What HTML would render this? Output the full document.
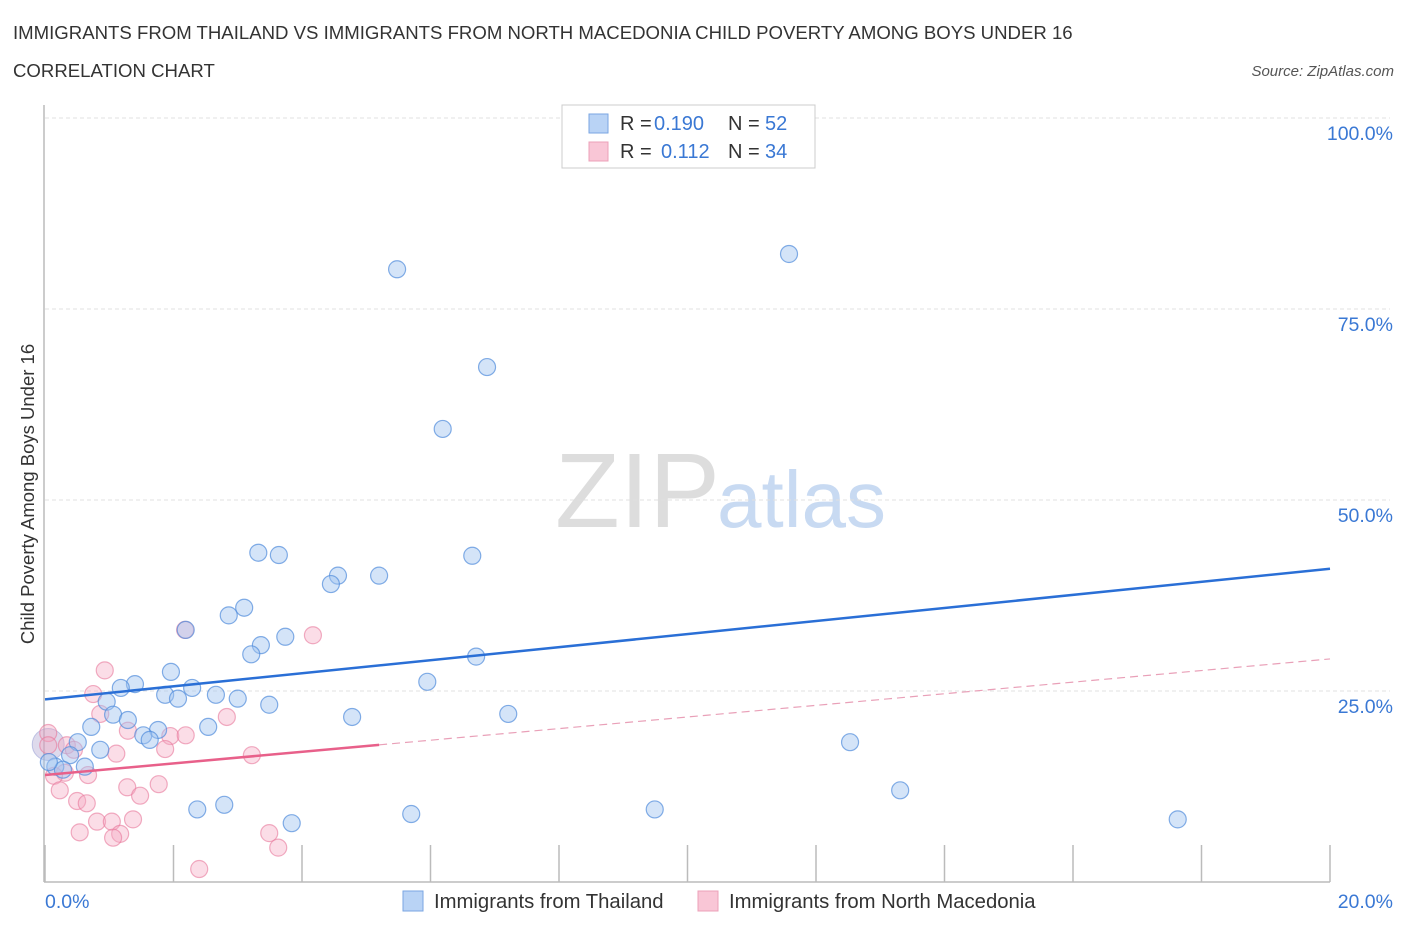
<!DOCTYPE html>
<html><head><meta charset="utf-8">
<style>
body{margin:0;background:#fff;font-family:"Liberation Sans",sans-serif;}
svg text{font-family:"Liberation Sans",sans-serif;}
</style></head>
<body>
<svg id="chart" width="1406" height="930" xmlns="http://www.w3.org/2000/svg">
<text x="13" y="39" font-size="18.6" fill="#333">IMMIGRANTS FROM THAILAND VS IMMIGRANTS FROM NORTH MACEDONIA CHILD POVERTY AMONG BOYS UNDER 16</text>
<text x="13" y="77" font-size="18.6" fill="#333">CORRELATION CHART</text>
<text x="1394" y="76" font-size="15" fill="#555" text-anchor="end" font-style="italic">Source: ZipAtlas.com</text>
<text x="555" y="527" font-size="106" fill="#ddd" font-family="Liberation Serif">ZIP</text>
<text x="717" y="527" font-size="80" fill="#c8daf2">atlas</text>
<text transform="translate(34,494) rotate(-90)" font-size="18.5" fill="#333" text-anchor="middle">Child Poverty Among Boys Under 16</text>
<g id="grid"></g>
<g id="marks"></g>
<g>
<rect x="562" y="105" width="253" height="63" fill="#fff" stroke="#ccc"/>
<rect x="589" y="114" width="19" height="19" fill="#b9d3f5" stroke="#7aa6e2"/>
<rect x="589" y="142" width="19" height="19" fill="#f9c6d6" stroke="#eca0b8"/>
<text x="620" y="130" font-size="20" fill="#333">R =</text>
<text x="654" y="130" font-size="20" fill="#3a78d4">0.190</text>
<text x="728" y="130" font-size="20" fill="#333">N =</text>
<text x="765" y="130" font-size="20" fill="#3a78d4">52</text>
<text x="620" y="158" font-size="20" fill="#333">R =</text>
<text x="661" y="158" font-size="20" fill="#3a78d4">0.112</text>
<text x="728" y="158" font-size="20" fill="#333">N =</text>
<text x="765" y="158" font-size="20" fill="#3a78d4">34</text>
</g>
<g>
<rect x="403" y="891" width="20" height="20" fill="#b9d3f5" stroke="#7aa6e2"/>
<text x="434" y="908" font-size="20.3" fill="#333">Immigrants from Thailand</text>
<rect x="698" y="891" width="20" height="20" fill="#f9c6d6" stroke="#eca0b8"/>
<text x="729" y="908" font-size="20.3" fill="#333">Immigrants from North Macedonia</text>
</g>
</svg>
<script>
const yTicks=[25,50,75,100];
const yTickLabels=["25.0%","50.0%","75.0%","100.0%"];
const xTickLabels=["0.0%","20.0%"];
const blueX=[5.48,11.58,6.88,6.19,3.32,3.64,6.65,4.56,5.20,4.45,3.10,2.86,2.19,3.36,3.74,3.21,1.96,6.71,1.40,1.18,2.29,1.87,2.07,2.66,3.00,5.95,0.96,3.49,1.06,1.29,4.78,7.21,0.72,2.54,1.76,1.53,1.63,0.51,12.53,0.86,0.39,0.16,0.62,0.28,0.06,2.37,2.79,5.70,9.49,13.31,3.84,17.63];
const blueY=[80.2,82.2,67.4,59.3,43.1,42.8,42.7,40.1,40.1,39.0,35.9,34.9,33.0,31.0,32.1,29.8,27.5,29.5,25.9,25.4,25.4,24.5,24.0,24.5,24.0,26.2,23.6,23.2,21.9,21.2,21.6,22.0,20.3,20.3,19.9,19.2,18.6,18.3,18.3,17.3,16.6,15.1,15.1,14.7,15.7,9.5,10.1,8.9,9.5,12.0,7.7,8.2];
const pinkX=[0.93,2.18,4.17,0.75,2.83,0.86,1.29,1.95,2.19,0.34,0.45,1.11,3.22,1.87,0.05,0.31,0.67,0.14,1.77,1.28,0.23,1.48,0.50,0.65,0.81,1.04,1.37,0.54,1.17,1.06,3.49,3.63,2.40,0.05];
const pinkY=[27.7,33.0,32.3,24.6,21.6,22.0,19.8,19.1,19.2,17.9,17.3,16.8,16.6,17.4,19.5,14.3,14.0,13.9,12.8,12.4,12.0,11.3,10.6,10.3,7.9,7.9,8.2,6.5,6.3,5.8,6.4,4.5,1.7,17.9];
const blueTrend=[23.9,41.0];
const pinkTrend=[14.0,29.2];
const pinkSolidEnd=5.2;
const X0=45,X1=1330,Y0=882,Y100=118;
const sx=v=>X0+(X1-X0)*v/20;
const sy=v=>Y0-(Y0-Y100)*v/100;
const NS="http://www.w3.org/2000/svg";
function mk(t,a,p){const e=document.createElementNS(NS,t);for(const k in a)e.setAttribute(k,a[k]);p.appendChild(e);return e;}
const grid=document.getElementById('grid'),marks=document.getElementById('marks');
mk('line',{x1:X0,y1:Y100,x2:1390,y2:Y100,stroke:'#e0e0e0','stroke-dasharray':'4 3'},grid);
yTicks.forEach((t,i)=>{
  const l=mk('line',{x1:X0,y1:sy(t),x2:1390,y2:sy(t),stroke:'#e0e0e0','stroke-dasharray':'4 3'},grid);
  
  
  const tx=mk('text',{x:1393,y:sy(t)+22,'font-size':19.5,fill:'#3a78d4','text-anchor':'end'},grid);
  tx.textContent=yTickLabels[i];
  
  
});
for(let i=0;i<=10;i++){
  const x=sx(i*2);
  const l=mk('line',{x1:x,y1:845,x2:x,y2:Y0,stroke:'#bbb','stroke-width':1.5},grid);
  
  
}
mk('line',{x1:44,y1:105,x2:44,y2:Y0,stroke:'#bbb','stroke-width':1.5},grid);
mk('line',{x1:44,y1:Y0,x2:X1,y2:Y0,stroke:'#bbb','stroke-width':1.5},grid);
[[0,'start',45],[1,'end',1393]].forEach(([i,a,x])=>{
  const t=mk('text',{x:x,y:908,'font-size':19.5,fill:'#3a78d4','text-anchor':a},grid);
  t.textContent=xTickLabels[i];
  
  
});
const big=mk('circle',{cx:sx(0.05),cy:sy(18),r:16,fill:'rgba(160,150,200,0.35)',stroke:'rgba(140,150,210,0.5)'},marks);


pinkX.forEach((v,i)=>{
  const c=mk('circle',{cx:sx(v),cy:sy(pinkY[i]),r:8.5,fill:'rgba(245,170,195,0.4)',stroke:'rgba(232,120,155,0.6)','stroke-width':1.2},marks);
  
  
});
blueX.forEach((v,i)=>{
  const c=mk('circle',{cx:sx(v),cy:sy(blueY[i]),r:8.5,fill:'rgba(160,195,240,0.45)',stroke:'rgba(80,140,220,0.7)','stroke-width':1.2},marks);
  
  
});
const bl=mk('line',{x1:sx(0),y1:sy(blueTrend[0]),x2:sx(20),y2:sy(blueTrend[1]),stroke:'#2a6fd6','stroke-width':2.5},marks);


const pm=v=>pinkTrend[0]+(pinkTrend[1]-pinkTrend[0])*v/20;
const pd=mk('line',{x1:sx(pinkSolidEnd),y1:sy(pm(pinkSolidEnd)),x2:sx(20),y2:sy(pinkTrend[1]),stroke:'#e9a0b8','stroke-width':1.2,'stroke-dasharray':'8 5'},marks);


const ps=mk('line',{x1:sx(0),y1:sy(pinkTrend[0]),x2:sx(pinkSolidEnd),y2:sy(pm(pinkSolidEnd)),stroke:'#e8608a','stroke-width':2.5},marks);


</script>
</body></html>
